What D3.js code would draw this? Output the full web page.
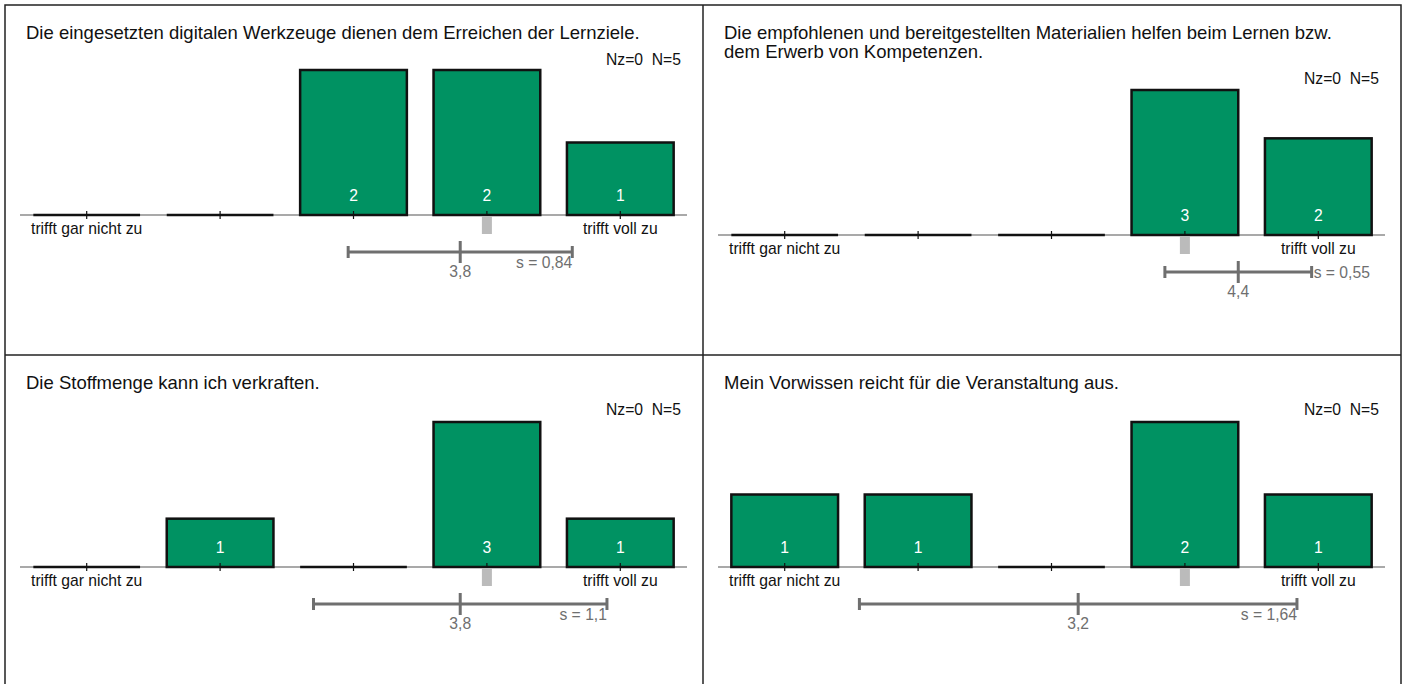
<!DOCTYPE html>
<html>
<head>
<meta charset="utf-8">
<script src="https://cdn.jsdelivr.net/npm/d3@7"></script>
<style>
  body { margin: 0; background: #fff; }
  text { font-family: "Liberation Sans", Arial, sans-serif; }
</style>
</head>
<body>
<svg id="canvas"></svg>
<script>
// chart data
var titles = [
  ["Die eingesetzten digitalen Werkzeuge dienen dem Erreichen der Lernziele."],
  ["Die empfohlenen und bereitgestellten Materialien helfen beim Lernen bzw.", "dem Erwerb von Kompetenzen."],
  ["Die Stoffmenge kann ich verkraften."],
  ["Mein Vorwissen reicht für die Veranstaltung aus."]
];
var categories = [1, 2, 3, 4, 5];
var scaleLabels = ["trifft gar nicht zu", "", "", "", "trifft voll zu"];
var counts = [
  [0, 0, 2, 2, 1],
  [0, 0, 0, 3, 2],
  [0, 1, 0, 3, 1],
  [1, 1, 0, 2, 1]
];
var means = [3.8, 4.4, 3.8, 3.2];
var sds = [0.84, 0.55, 1.1, 1.64];
var medians = [4, 4, 4, 4];
var nz = [0, 0, 0, 0];
var nTotal = [5, 5, 5, 5];

var W = 1404, H = 684;
var GREEN = '#009262';
var GREY = '#6f6f6f';
var FS = 15.7;
var TITLE_FS = 18.5;
var DIV_Y = 355;

// panel layout (x offset, top of panel, axis y)
var panels = [
  { x0: 5,   top: 5,     axisY: 215 },
  { x0: 703, top: 5,     axisY: 235 },
  { x0: 5,   top: DIV_Y, axisY: 567 },
  { x0: 703, top: DIV_Y, axisY: 567 }
];

function fmt(v) { return String(v).replace('.', ','); }

var svg = d3.select('#canvas').attr('width', W).attr('height', H);

// frame
svg.append('rect').attr('x', 5).attr('y', 5).attr('width', 1396).attr('height', H + 10)
  .attr('fill', 'none').attr('stroke', '#222').attr('stroke-width', 1.5);
svg.append('line').attr('x1', 703).attr('x2', 703).attr('y1', 5).attr('y2', H)
  .attr('stroke', '#222').attr('stroke-width', 1.5);
svg.append('line').attr('x1', 5).attr('x2', 1401).attr('y1', DIV_Y).attr('y2', DIV_Y)
  .attr('stroke', '#222').attr('stroke-width', 1.5);

panels.forEach(function (p, i) {
  var g = svg.append('g').attr('transform', 'translate(' + (p.x0 - 5) + ',0)');
  var x = d3.scalePoint().domain(categories).range([20, 687]).padding(0.5);
  var step = x.step();
  var bw = step * 0.8;
  var xm = d3.scaleLinear().domain([1, 5]).range([x(1), x(5)]);
  var y = d3.scaleLinear().domain([0, d3.max(counts[i])]).range([p.axisY, p.axisY - 145]);

  var titleY = p.top + 34;
  var nLines = titles[i].length;
  g.append('g').selectAll('text').data(titles[i]).enter().append('text')
    .attr('x', 26).attr('y', function (d, k) { return titleY + k * 19; })
    .attr('font-size', TITLE_FS).attr('fill', '#111').text(function (d) { return d; });

  g.append('text').attr('x', 681).attr('y', titleY + (nLines - 1) * 19 + 26).attr('text-anchor', 'end')
    .attr('font-size', FS).attr('fill', '#111').attr('xml:space', 'preserve')
    .text('Nz=' + nz[i] + '  N=' + nTotal[i]);

  // axis line
  g.append('line').attr('x1', 20).attr('x2', 687).attr('y1', p.axisY).attr('y2', p.axisY)
    .attr('stroke', '#555').attr('stroke-width', 1.2);

  var bars = categories.map(function (c, k) { return { cat: c, n: counts[i][k] }; });
  g.selectAll('rect.bar').data(bars.filter(function (d) { return d.n > 0; })).enter()
    .append('rect').attr('class', 'bar')
    .attr('x', function (d) { return x(d.cat) - bw / 2; })
    .attr('y', function (d) { return y(d.n); })
    .attr('width', bw)
    .attr('height', function (d) { return p.axisY - y(d.n); })
    .attr('fill', GREEN).attr('stroke', '#111').attr('stroke-width', 2.5);
  g.selectAll('line.empty').data(bars.filter(function (d) { return d.n === 0; })).enter()
    .append('line').attr('class', 'empty')
    .attr('x1', function (d) { return x(d.cat) - bw / 2; })
    .attr('x2', function (d) { return x(d.cat) + bw / 2; })
    .attr('y1', p.axisY).attr('y2', p.axisY)
    .attr('stroke', '#111').attr('stroke-width', 2.5);
  g.selectAll('text.cnt').data(bars.filter(function (d) { return d.n > 0; })).enter()
    .append('text').attr('class', 'cnt')
    .attr('x', function (d) { return x(d.cat); }).attr('y', p.axisY - 14)
    .attr('text-anchor', 'middle').attr('font-size', FS).attr('fill', '#fff')
    .text(function (d) { return d.n; });

  // ticks
  g.selectAll('line.tick').data(categories).enter().append('line')
    .attr('x1', function (d) { return x(d); }).attr('x2', function (d) { return x(d); })
    .attr('y1', p.axisY - 4).attr('y2', p.axisY + 4)
    .attr('stroke', '#111').attr('stroke-width', 1.2);
  g.selectAll('text.lab').data(categories).enter().append('text')
    .attr('x', function (d) { return x(d); }).attr('y', p.axisY + 19)
    .attr('text-anchor', 'middle').attr('font-size', FS).attr('fill', '#111')
    .text(function (d, k) { return scaleLabels[k]; });

  // median marker
  g.append('rect').attr('x', x(medians[i]) - 5).attr('y', p.axisY + 1)
    .attr('width', 10).attr('height', 18).attr('fill', '#bbb');

  // mean +- sd
  var sy = p.axisY + 37;
  var m = xm(means[i]), lo = xm(means[i] - sds[i]), hi = xm(means[i] + sds[i]);
  var sg = g.append('g').attr('stroke', GREY).attr('stroke-width', 3);
  sg.append('line').attr('x1', lo).attr('x2', hi).attr('y1', sy).attr('y2', sy);
  sg.append('line').attr('x1', lo).attr('x2', lo).attr('y1', sy - 6).attr('y2', sy + 6);
  sg.append('line').attr('x1', hi).attr('x2', hi).attr('y1', sy - 6).attr('y2', sy + 6);
  sg.append('line').attr('x1', m).attr('x2', m).attr('y1', sy - 11).attr('y2', sy + 11);
  g.append('text').attr('x', m).attr('y', sy + 25).attr('text-anchor', 'middle')
    .attr('font-size', FS).attr('fill', GREY).text(fmt(means[i]));
  var outside = (hi - m) < 80;
  g.append('text')
    .attr('x', outside ? hi + 2 : hi)
    .attr('y', outside ? sy + 6 : sy + 16)
    .attr('text-anchor', outside ? 'start' : 'end')
    .attr('font-size', FS).attr('fill', GREY).text('s = ' + fmt(sds[i]));
});
</script>
</body>
</html>
